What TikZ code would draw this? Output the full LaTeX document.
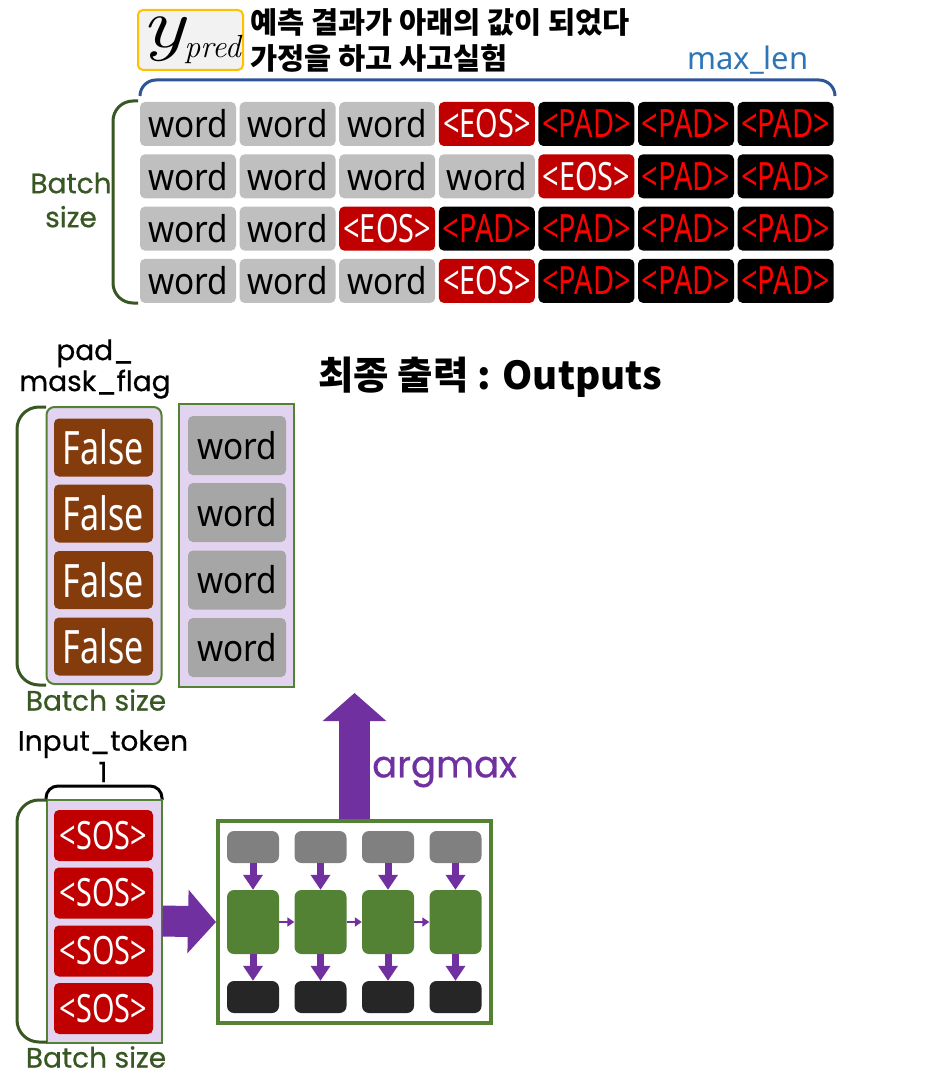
\documentclass[tikz,border=0pt]{standalone}
\usepackage{fontspec}
\usetikzlibrary{arrows.meta}
\newfontfamily\lbl{Noto Sans}
\newfontfamily\lblb{Poppins}[FakeBold=0.6]
\newfontfamily\krfont{Noto Sans CJK KR}
\newfontfamily\wordfont{Noto Sans}[FakeStretch=0.9]
\newfontfamily\tagfont{Noto Sans}[FakeStretch=0.74]
\definecolor{wordgray}{HTML}{BFBFBF}
\definecolor{wordgrayb}{HTML}{A6A6A6}
\definecolor{eosred}{HTML}{C00000}
\definecolor{padred}{HTML}{FF0000}
\definecolor{flagbrown}{HTML}{843C0C}
\definecolor{lav}{HTML}{E2D4F0}
\definecolor{boxgreen}{HTML}{548235}
\definecolor{dkgreen}{HTML}{385723}
\definecolor{braceblue}{HTML}{2F5597}
\definecolor{lenblue}{HTML}{2E75B6}
\definecolor{purp}{HTML}{7030A0}
\definecolor{cellgray}{HTML}{808080}
\definecolor{cellblack}{HTML}{262626}
\definecolor{orng}{HTML}{FFC000}
\definecolor{ybg}{HTML}{F2F2F2}
\tikzset{
  cell/.style={rounded corners=5pt, minimum width=96pt, minimum height=44pt, inner sep=0pt},
  cellw/.style={cell, fill=wordgray, text=black, font={\wordfont\fontsize{37}{37}\selectfont}, node contents={word}},
  celle/.style={cell, fill=eosred, text=white, font={\tagfont\fontsize{39}{39}\selectfont}, node contents={<EOS>}},
  cellp/.style={cell, fill=black, text=padred, font={\tagfont\fontsize{39}{39}\selectfont}, node contents={<PAD>}},
  flagcell/.style={rounded corners=5pt, minimum width=99pt, minimum height=58pt, inner sep=0pt, fill=flagbrown, text=white, font={\tagfont\fontsize{46}{46}\selectfont}},
  mwcell/.style={rounded corners=5pt, minimum width=98pt, minimum height=59pt, inner sep=0pt, fill=wordgrayb, text=black, font={\wordfont\fontsize{37}{37}\selectfont}},
  soscell/.style={rounded corners=5pt, minimum width=99pt, minimum height=51pt, inner sep=0pt, fill=eosred, text=white, font={\tagfont\fontsize{39}{39}\selectfont}},
  colbox/.style={draw=boxgreen, line width=2pt, fill=lav, minimum width=115pt, inner sep=0pt},
  brk/.style={draw=dkgreen, line width=3pt, rounded corners=20pt},
  lab/.style={font={\lblb\fontsize{28}{31}\selectfont}, align=center, inner sep=0pt},
  rnncell/.style={rounded corners=7pt, minimum width=52pt, inner sep=0pt},
  varrow/.style={draw=purp, line width=7pt, -{Triangle[width=19pt,length=15pt]}},
  harrow/.style={draw=purp, line width=2.5pt, -{Triangle[width=9pt,length=7pt]}},
  bigarrow/.style={draw=purp, line width=31pt, -{Triangle[width=62pt,length=28pt]}},
}
\begin{document}
\begin{tikzpicture}[x=1pt,y=-1pt]
\fill[white] (0,0) rectangle (932,1091);
\useasboundingbox (0,0) rectangle (932,1091);

% ---- header ----
\node[draw=orng, line width=2pt, fill=ybg, rounded corners=5pt, minimum width=105pt, minimum height=60pt, inner sep=0pt] (ypred) at (190.5,40) {};
\node[inner sep=0pt, anchor=base west] (ytext) at (141,48)
  {\scalebox{1.3}[1]{\itshape\fontsize{70}{70}\selectfont y}\raisebox{-10pt}{\itshape\fontsize{32}{32}\selectfont pred}};
\node[anchor=west, inner sep=0pt, font={\krfont\bfseries\fontsize{29.5}{29.5}\selectfont}] (kr1) at (250,22) {예측 결과가 아래의 값이 되었다};
\node[anchor=west, inner sep=0pt, font={\krfont\bfseries\fontsize{29.5}{29.5}\selectfont}] (kr2) at (250,58) {가정을 하고 사고실험};
\node[inner sep=0pt, text=lenblue, font={\lbl\fontsize{31}{31}\selectfont}] (maxlen) at (748,60) {max\_len};
\draw[braceblue, line width=3pt, rounded corners=16pt] (140,96) -- (140,80) -- (835,80) -- (835,96);

% ---- top grid ----
\foreach \row [count=\i] in {{w,w,w,e,p,p,p},{w,w,w,w,e,p,p},{w,w,e,p,p,p,p},{w,w,w,e,p,p,p}}{
  \foreach \t [count=\j] in \row {
    \edef\tmp{\noexpand\node (g\i\j) at ({188+(\j-1)*99.6},{124+(\i-1)*52.3}) [cell\t];}\tmp
  }
}
\draw[brk] (138,101) -- (113,101) -- (113,303) -- (138,303);
\node[lab, text=dkgreen, font={\lblb\fontsize{28}{34}\selectfont}] (bs1) at (71,200) {Batch\\size};

% ---- pad mask flag ----
\node[lab] (padlab) at (95,369) {pad\_\\mask\_flag};
\node[colbox, rounded corners=8pt, minimum height=277pt] (mask) at (104,545.5) {};
\foreach \y [count=\k] in {447.5,513.5,580,646.5}
  \node[flagcell] (f\k) at (103.5,\y) {False};
\draw[brk, rounded corners=22pt] (46,407) -- (17,407) -- (17,685) -- (46,685);
\node[lab, text=dkgreen] (bs2) at (96,700) {Batch size};

\node[colbox, minimum height=283pt] (outcol) at (236.5,545.5) {};
\foreach \y [count=\k] in {445.5,512.5,580,647.5}
  \node[mwcell] (o\k) at (237,\y) {word};

\node[inner sep=0pt, font={\krfont\bfseries\fontsize{38.5}{38.5}\selectfont}] (final) at (490,377) {최종 출력 : Outputs};

% ---- input token ----
\node[lab] (inlab) at (103,744) {Input\_token};
\node[lab] (one) at (103,772) {1};
\draw[black, line width=3pt, rounded corners=12pt] (46,800) -- (46,786) -- (162,786) -- (162,800);
\node[colbox, minimum height=243pt] (sos) at (104,921) {};
\foreach \y [count=\k] in {835.5,893,951,1008.5}
  \node[soscell] (s\k) at (103.5,\y) {<SOS>};
\draw[brk, rounded corners=22pt] (47,800) -- (17,800) -- (17,1042) -- (47,1042);
\node[lab, text=dkgreen] (bs3) at (96,1057) {Batch size};

% ---- RNN block ----
\node[draw=boxgreen, line width=4pt, fill=white, minimum width=273pt, minimum height=202pt, inner sep=0pt] (rnn) at (354.5,922) {};
\foreach \x [count=\k] in {253,320.5,388,455.5}{
  \node[rnncell, fill=cellgray, minimum height=32pt] (gr\k) at (\x,847) {};
  \node[rnncell, fill=boxgreen, minimum height=64pt] (gn\k) at (\x,922) {};
  \node[rnncell, fill=cellblack, minimum height=32pt] (bk\k) at (\x,997) {};
}
\foreach \k in {1,...,4}{
  \draw[varrow] (gr\k.south) -- (gn\k.north);
  \draw[varrow] (gn\k.south) -- (bk\k.north);
}
\foreach \k/\n in {1/2,2/3,3/4}
  \draw[harrow] (gn\k.east) -- (gn\n.west);

\draw[bigarrow] (sos.east) -- (rnn.west);
\coordinate (uptip) at (354.5,693);
\draw[bigarrow] (rnn.north) -- (uptip);
\node[anchor=west, inner sep=0pt, text=purp, font={\lblb\fontsize{37}{37}\selectfont}] (argmax) at (372,772) {argmax};
\end{tikzpicture}
\end{document}
